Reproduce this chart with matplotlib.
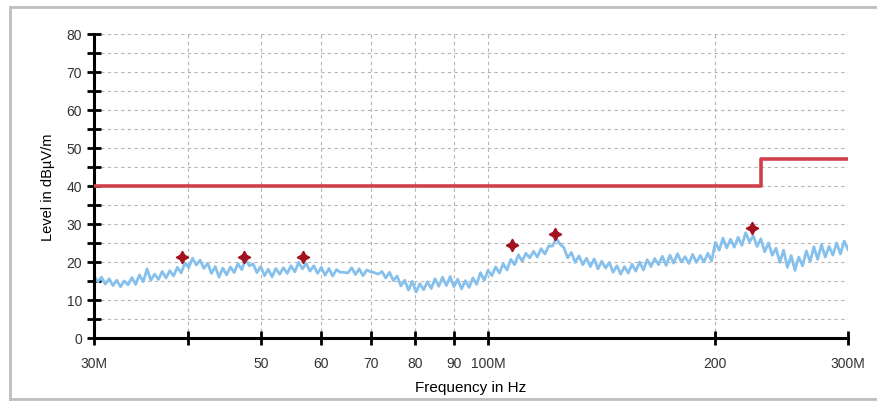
import numpy as np
import matplotlib
matplotlib.use('Agg')
import matplotlib.pyplot as plt
from matplotlib.lines import Line2D

# measured sweep levels (dBuV/m), log-spaced sweep from 30 MHz to 300 MHz
sweep_start = 30e6
sweep_stop = 300e6
levels = [
    16.4, 14.8, 16.0, 14.2, 15.6, 13.8, 15.2, 13.5, 15.0, 14.0,
    15.9, 14.1, 16.6, 14.8, 18.2, 15.2, 16.8, 15.4, 17.5, 15.8,
    17.7, 16.3, 18.6, 17.1, 19.8, 18.5, 21.0, 19.2, 20.5, 18.3,
    19.7, 17.0, 18.8, 16.0, 18.4, 16.6, 18.7, 17.2, 19.6, 18.0,
    20.8, 19.0, 19.5, 17.2, 18.8, 16.4, 18.1, 16.1, 18.3, 16.8,
    18.5, 17.0, 19.0, 17.4, 19.9, 18.2, 19.6, 17.6, 19.0, 17.0,
    18.6, 16.5, 18.3, 16.3, 18.0, 17.3, 17.3, 17.1, 18.5, 16.7,
    18.2, 16.4, 17.9, 17.4, 17.2, 16.8, 17.5, 15.8, 17.3, 15.1,
    16.3, 13.7, 15.2, 12.6, 14.9, 12.1, 14.3, 12.7, 14.8, 13.0,
    15.6, 13.6, 16.0, 13.8, 16.2, 13.5, 15.5, 12.9, 15.1, 13.3,
    15.8, 14.1, 17.2, 15.2, 17.8, 16.4, 18.7, 17.1, 19.5, 17.9,
    20.7, 19.3, 21.9, 20.2, 22.3, 21.1, 22.8, 21.3, 23.5, 22.1,
    24.2, 24.2, 26.3, 24.7, 23.8, 21.1, 22.5, 19.9, 21.6, 19.3,
    21.0, 18.8, 20.8, 18.2, 20.2, 18.4, 19.9, 17.3, 19.0, 16.8,
    18.8, 17.1, 19.4, 17.6, 20.0, 17.9, 20.6, 18.8, 20.9, 19.3,
    21.5, 19.1, 21.8, 19.7, 22.2, 20.0, 21.4, 19.6, 22.0, 19.9,
    21.7, 20.0, 22.3, 20.3, 25.2, 23.1, 26.3, 23.7, 26.0, 23.9,
    26.5, 24.4, 27.7, 25.3, 26.9, 24.1, 26.1, 22.7, 25.0, 21.8,
    23.6, 19.9, 23.1, 18.6, 21.7, 17.8, 21.3, 19.0, 22.9, 20.1,
    24.0, 20.7, 24.6, 21.3, 24.1, 21.8, 25.0, 22.1, 25.5, 23.3,
]

# final measurement points
peak_freq = [39.2e6, 47.4e6, 56.8e6, 107.5e6, 122.7e6, 224e6]
peak_level = [21.3, 21.3, 21.3, 24.6, 27.5, 29.0]

# limit line
limit_freq = [30e6, 230e6, 230e6, 300e6]
limit_level = [40, 40, 47, 47]

xtick_freq = [30e6, 40e6, 50e6, 60e6, 70e6, 80e6, 90e6, 100e6, 200e6, 300e6]
xtick_labels = ['30M', '', '50', '60', '70', '80', '90', '100M', '200', '300M']

plt.rcParams['font.family'] = ['Liberation Sans', 'DejaVu Sans']


def draw_frame(fig):
    grey = '#bdbdbd'
    fig.add_artist(Line2D([10/877, 10/877], [2/402, 394/402], color=grey, lw=2, transform=fig.transFigure))
    fig.add_artist(Line2D([10/877, 1.0], [394/402, 394/402], color=grey, lw=2, transform=fig.transFigure))
    fig.add_artist(Line2D([10/877, 1.0], [2/402, 2/402], color=grey, lw=2, transform=fig.transFigure))


def main():
    fig = plt.figure(figsize=(8.77, 4.02), dpi=100)
    ax = fig.add_axes([94/877, 63/402, 754/877, 304/402])
    freq = np.geomspace(sweep_start, sweep_stop, len(levels))

    ax.plot(freq, levels, color='#86c0ec', lw=2.0, zorder=2)
    ax.plot(limit_freq, limit_level, color='#d0404c', lw=2.6, zorder=3)
    ax.plot(peak_freq, peak_level, linestyle='none', marker=(4, 1, 0), markersize=9,
            color='#a3121f', zorder=4)

    ax.set_xscale('log')
    ax.set_xlim(30e6, 300e6)
    ax.set_ylim(0, 80)
    ax.set_xticks(xtick_freq, xtick_labels)
    ax.minorticks_off()
    ax.set_yticks(range(0, 81, 10))
    ax.set_yticks(range(5, 80, 10), minor=True)

    ax.grid(True, which='both', color='#b5b5b5', linestyle=(0, (3, 3)), lw=0.8)
    ax.set_axisbelow(True)

    for side in ('top', 'right'):
        ax.spines[side].set_visible(False)
    for side in ('left', 'bottom'):
        ax.spines[side].set_linewidth(2.2)
        ax.spines[side].set_color('black')

    ax.tick_params(axis='both', which='both', direction='inout', length=10, width=2,
                   labelsize=10, labelcolor='#333333')
    ax.tick_params(axis='x', pad=8)

    ax.set_ylabel('Level in dBµV/m', fontsize=10.5, labelpad=8)
    ax.set_xlabel('Frequency in Hz', fontsize=11, labelpad=7)

    draw_frame(fig)
    fig.savefig('out.png', dpi=100)


if __name__ == "__main__":
    main()
